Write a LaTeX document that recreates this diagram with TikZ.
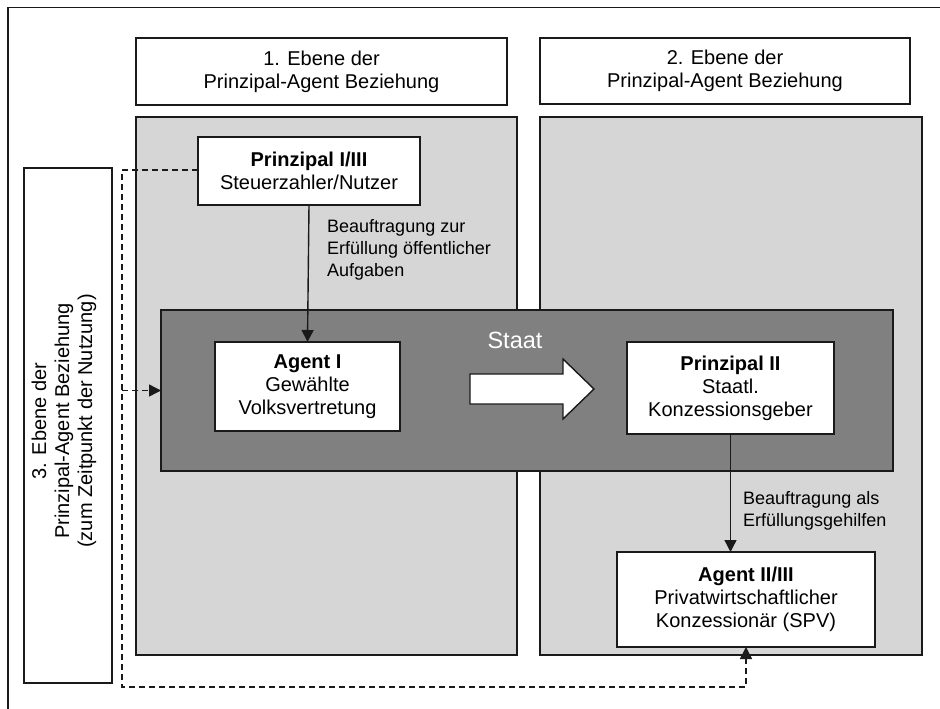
\documentclass[tikz,border=0pt]{standalone}
\usepackage{fontspec}
\setmainfont{Liberation Sans}
\usetikzlibrary{arrows.meta}
\definecolor{panelgray}{HTML}{D6D6D6}
\definecolor{staatgray}{HTML}{808080}
\definecolor{linecol}{HTML}{1A1A1A}
\newcommand{\mainsz}{\fontsize{20}{23}\selectfont}
\newcommand{\labsz}{\fontsize{18}{22}\selectfont}
\begin{document}
\begin{tikzpicture}[x=1pt,y=-1pt,
  rbox/.style={draw=linecol, line width=1.8pt, anchor=north west, inner sep=0pt, outer sep=0pt, align=center, font=\mainsz},
  whitebox/.style={rbox, fill=white},
  panel/.style={rbox, fill=panelgray},
  conn/.style={draw=linecol, line width=1.4pt, -{Triangle[length=12pt,width=12pt]}},
  dashconn/.style={draw=linecol, line width=1.4pt, dash pattern=on 6pt off 4pt, -{Triangle[length=12pt,width=12pt]}},
  lab/.style={anchor=west, align=left, font=\labsz, inner sep=0pt}
]
\useasboundingbox (0,0) rectangle (940,709);
\fill[white] (0,0) rectangle (940,709);
% outer frame (cut by the page edges)
\draw[draw=linecol, line width=1.8pt] (8,720) -- (8,7.5) -- (950,7.5);

% headers
\node[whitebox, minimum width=371pt, minimum height=67pt] (hdr1) at (136,38) {1. Ebene der\\Prinzipal-Agent Beziehung};
\node[whitebox, minimum width=370pt, minimum height=66pt] (hdr2) at (540,38) {2. Ebene der\\Prinzipal-Agent Beziehung};

% panels
\node[panel, minimum width=381pt, minimum height=538pt] (panel1) at (136,117) {};
\node[panel, minimum width=382pt, minimum height=538pt] (panel2) at (540,117) {};

% side box
\node[whitebox, minimum width=88pt, minimum height=515pt] (side) at (24,168) {};
\node[rotate=90, align=center, font=\mainsz, inner sep=0pt] (sidetext) at (64,421) {3. Ebene der\\Prinzipal-Agent Beziehung\\(zum Zeitpunkt der Nutzung)};

% Staat
\node[rbox, fill=staatgray, minimum width=732pt, minimum height=161pt] (staat) at (161,310) {};
\node[text=white, font=\fontsize{23.5}{26}\selectfont, inner sep=0pt] (staatlab) at (515,340) {Staat};

% big white arrow
\draw[draw=linecol, line width=1.4pt, fill=white] (470,374) -- (563,374) -- (563,359) -- (594,389) -- (563,419) -- (563,404) -- (470,404) -- cycle;

% actor boxes
\node[whitebox, minimum width=222pt, minimum height=68pt] (p1) at (198,137) {\textbf{Prinzipal I/III}\\Steuerzahler/Nutzer};
\node[whitebox, minimum width=185pt, minimum height=89pt] (a1) at (215,342) {\textbf{Agent I}\\Gewählte\\Volksvertretung};
\node[whitebox, minimum width=207pt, minimum height=92pt] (p2) at (627,342) {\textbf{Prinzipal II}\\Staatl.\\Konzessionsgeber};
\node[whitebox, minimum width=258pt, minimum height=95pt] (a2) at (617,552) {\textbf{Agent II/III}\\Privatwirtschaftlicher\\Konzessionär (SPV)};

% connectors
\draw[conn] (p1.south) -- (a1.north);
\draw[conn] (p2.south) -- (p2.south |- a2.north);

\node[lab] (lab1) at (327,250) {Beauftragung zur\\Erfüllung öffentlicher\\Aufgaben};
\node[lab] (lab2) at (743,511) {Beauftragung als\\Erfüllungsgehilfen};

% dashed connectors
\coordinate (c1) at (122,170);
\coordinate (c2) at (122,687);
\coordinate (c3) at (122,390.5);
\draw[dashconn] (p1.west |- c1) -- (c1) -- (c2) -| (a2.south);
\draw[dashconn] (c3) -- (staat.west);
\end{tikzpicture}
\end{document}
